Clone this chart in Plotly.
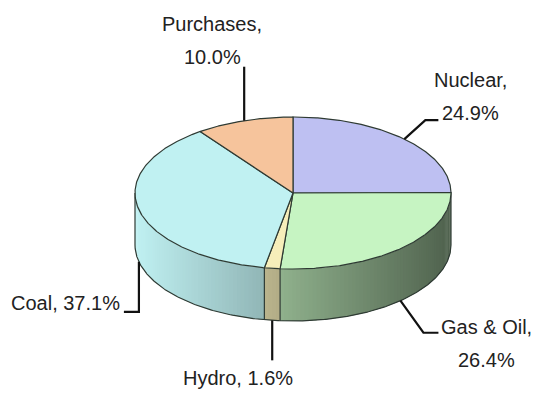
import numpy as np
import plotly.graph_objects as go

# Generation mix
labels = ["Nuclear", "Gas & Oil", "Hydro", "Coal", "Purchases"]
shares = [24.9, 26.4, 1.6, 37.1, 10.0]
top_colors = ["#BEC0F2", "#C6F4C2", "#F6EEBA", "#C0F1F2", "#F6C49C"]

# Tilted disc geometry in pixel space (y grows downward)
CX, CY, RX, RY, DEPTH = 293, 193, 158, 76, 52
W, H = 533, 395
FONT = "Liberation Sans, Arial, sans-serif"

# Label lines, their placement and leader-line elbows (offsets from the slice anchor)
label_layout = {
    "Nuclear":   dict(lines=["Nuclear,", "24.9%"], x=470, ys=[80, 113], legs=[(21, -19), (34, -19)]),
    "Gas & Oil": dict(lines=["Gas & Oil,", "26.4%"], x=486, ys=[327, 360], legs=[(23, 32), (38, 32)]),
    "Hydro":     dict(lines=["Hydro, 1.6%"], x=238, ys=[378], legs=[(0, 40)]),
    "Coal":      dict(lines=["Coal, 37.1%"], x=65, ys=[303], legs=[(0, 50), (-15, 50)]),
    "Purchases": dict(lines=["Purchases,", "10.0%"], x=212, ys=[24, 57], legs=[(0, -54)]),
}


def pt(theta, drop=0.0):
    """Point on the rim; theta in degrees clockwise from 12 o'clock."""
    t = np.radians(theta)
    return CX + RX * np.sin(t), CY - RY * np.cos(t) + drop


def arc(a0, a1, drop=0.0, step=0.5):
    n = max(2, int(abs(a1 - a0) / step) + 1)
    th = np.linspace(a0, a1, n)
    xs, ys = pt(th, drop)
    return list(xs), list(ys)


def hex_rgb(h):
    h = h.lstrip("#")
    return [int(h[i:i + 2], 16) for i in (0, 2, 4)]


def shade(color, x):
    # light falls from the left: darker toward the right of the wall
    f = 1.0 - 0.6 * (x - (CX - RX)) / (2 * RX)
    r, g, b = (int(round(c * f)) for c in hex_rgb(color))
    return f"rgb({r},{g},{b})"


total = sum(shares)
bounds = np.concatenate([[0], np.cumsum(shares) / total * 360.0])

fig = go.Figure()

# Front wall, drawn in narrow overlapping strips to carry the gradient
for i, lab in enumerate(labels):
    a0, a1 = max(bounds[i], 90.0), min(bounds[i + 1], 270.0)
    if a1 <= a0:
        continue
    edges = np.linspace(a0, a1, max(2, int((a1 - a0) / 1.5) + 2))
    for s0, s1 in zip(edges[:-1], edges[1:]):
        s1x = min(s1 + 0.8, a1)
        tx, ty = arc(s0, s1x, 0, 0.25)
        bx, by = arc(s1x, s0, DEPTH, 0.25)
        xm = float(pt((s0 + s1) / 2)[0])
        col = shade(top_colors[i], xm)
        fig.add_trace(go.Scatter(
            x=tx + bx + [tx[0]], y=ty + by + [ty[0]], mode="lines",
            fill="toself", fillcolor=col, line=dict(width=0),
            hoverinfo="skip"))

# Wall outlines
OUT = dict(color="#2E3A33", width=1.2)
bx, by = arc(90, 270, DEPTH)
fig.add_trace(go.Scatter(x=bx, y=by, mode="lines", line=OUT, hoverinfo="skip"))
for a in [90.0, 270.0] + [b for b in bounds if 90 < b < 270]:
    x0, y0 = pt(a)
    fig.add_trace(go.Scatter(x=[x0, x0], y=[y0, y0 + DEPTH], mode="lines",
                             line=OUT, hoverinfo="skip"))

# Top face slices
for i, lab in enumerate(labels):
    ax, ay = arc(bounds[i], bounds[i + 1])
    fig.add_trace(go.Scatter(
        x=[CX] + ax + [CX], y=[CY] + ay + [CY], mode="lines",
        fill="toself", fillcolor=top_colors[i], line=OUT,
        name=lab, hoverinfo="name"))

# Leader lines and labels
for i, lab in enumerate(labels):
    mid = (bounds[i] + bounds[i + 1]) / 2
    back = mid < 90 or mid > 270
    ax, ay = pt(mid, 0 if back else DEPTH)
    spec = label_layout[lab]
    xs = [ax] + [ax + dx for dx, _ in spec["legs"]]
    ys = [ay] + [ay + dy for _, dy in spec["legs"]]
    fig.add_trace(go.Scatter(x=xs, y=ys, mode="lines",
                             line=dict(color="#111111", width=2.2), hoverinfo="skip"))
    for line_text, ly in zip(spec["lines"], spec["ys"]):
        fig.add_annotation(x=spec["x"], y=ly, text=line_text, showarrow=False,
                           xanchor="center", yanchor="middle", align="center",
                           font=dict(family=FONT, size=20, color="#222222"))

fig.update_layout(
    width=W, height=H, margin=dict(l=0, r=0, t=0, b=0),
    paper_bgcolor="white", plot_bgcolor="white", showlegend=False,
    xaxis=dict(range=[0, W], visible=False, fixedrange=True),
    yaxis=dict(range=[H, 0], visible=False, fixedrange=True),
)

fig.write_html("out.html")
